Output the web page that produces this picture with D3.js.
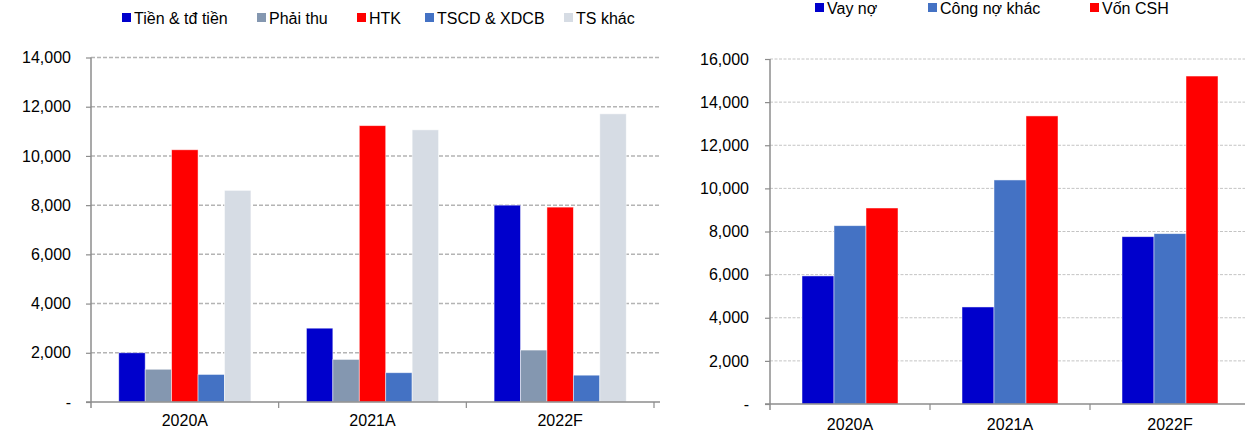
<!DOCTYPE html>
<html>
<head>
<meta charset="utf-8">
<script src="https://cdn.jsdelivr.net/npm/d3@7"></script>
<style>
  body { margin: 0; background: #fff; }
  svg { display: block; }
  svg text { font-family: "Liberation Sans", Arial, sans-serif; font-size: 16px; fill: #000; }
</style>
</head>
<body>
<script>
// data
const years = ['2020A', '2021A', '2022F'];

const assetSeries = ['Tiền & tđ tiền', 'Phải thu', 'HTK', 'TSCD & XDCB', 'TS khác'];
const assetColors = ['#0000CC', '#8497B0', '#FF0000', '#4472C4', '#D6DCE4'];
const tienTd = [2000, 3000, 8000];
const phaiThu = [1330, 1730, 2110];
const htk = [10250, 11230, 7920];
const tscd = [1120, 1190, 1090];
const tsKhac = [8600, 11060, 11710];
const assetTicks = [0, 2000, 4000, 6000, 8000, 10000, 12000, 14000];

const sourceSeries = ['Vay nợ', 'Công nợ khác', 'Vốn CSH'];
const sourceColors = ['#0000CC', '#4472C4', '#FF0000'];
const vayNo = [5940, 4500, 7760];
const congNoKhac = [8270, 10390, 7900];
const vonCSH = [9090, 13360, 15210];
const sourceTicks = [0, 2000, 4000, 6000, 8000, 10000, 12000, 14000, 16000];

const W = 1245, H = 434;
const svg = d3.select('body').append('svg').attr('width', W).attr('height', H);

const fmt = v => v === 0 ? '-' : d3.format(',')(v);

function drawChart(cfg) {
  const g = svg.append('g');
  const x = d3.scaleBand().domain(years).range([cfg.x0, cfg.x1]);
  const xs = d3.scaleBand().domain(cfg.series.map((s, i) => i))
    .range([0, x.bandwidth()]).paddingOuter(cfg.pad).paddingInner(0);
  const y = d3.scaleLinear().domain([0, cfg.max]).range([cfg.y0, cfg.y1]);

  // gridlines
  g.append('g').selectAll('line')
    .data(cfg.ticks.filter(t => t > 0))
    .join('line')
      .attr('x1', cfg.x0).attr('x2', cfg.gridEnd)
      .attr('y1', d => y(d)).attr('y2', d => y(d))
      .attr('stroke', cfg.gridColor)
      .attr('stroke-width', cfg.gridWidth)
      .attr('stroke-dasharray', cfg.dash);

  // bars
  cfg.values.forEach((vals, si) => {
    g.append('g').selectAll('rect')
      .data(vals)
      .join('rect')
        .attr('x', (d, i) => x(years[i]) + xs(si))
        .attr('y', d => y(d))
        .attr('width', xs.bandwidth())
        .attr('height', d => y(0) - y(d))
        .attr('fill', cfg.colors[si])
        .attr('stroke', 'rgba(255,255,255,0.6)')
        .attr('stroke-width', 0.8);
  });

  // y axis
  const yAxis = g.append('g')
    .attr('transform', `translate(${cfg.x0},0)`)
    .call(d3.axisLeft(y).tickValues(cfg.ticks).tickFormat(fmt).tickSize(5).tickPadding(cfg.labelPad));
  yAxis.attr('font-family', null).attr('font-size', null);
  yAxis.select('.domain').attr('stroke', '#8c8c8c').attr('stroke-width', 1.5)
    .attr('d', `M0,${cfg.y1}V${cfg.y0 + 6}`);
  yAxis.selectAll('.tick line').attr('stroke', '#8c8c8c').attr('stroke-width', 1.2);

  // x axis
  const xAxis = g.append('g').attr('transform', `translate(0,${cfg.y0})`);
  xAxis.append('line')
    .attr('x1', cfg.x0 - 5).attr('x2', cfg.gridEnd)
    .attr('stroke', '#8c8c8c').attr('stroke-width', 1.5);
  xAxis.selectAll('.sep')
    .data(years.slice(1).concat(cfg.lastTick ? ['end'] : []))
    .join('line')
      .attr('x1', d => d === 'end' ? cfg.x1 : x(d))
      .attr('x2', d => d === 'end' ? cfg.x1 : x(d))
      .attr('y1', 0).attr('y2', 6)
      .attr('stroke', '#8c8c8c').attr('stroke-width', 1.2);
  xAxis.selectAll('text')
    .data(years)
    .join('text')
      .attr('x', d => x(d) + x.bandwidth() / 2)
      .attr('y', cfg.catY)
      .attr('text-anchor', 'middle')
      .text(d => d);

  // legend
  const leg = g.append('g');
  cfg.series.forEach((s, i) => {
    leg.append('rect')
      .attr('x', cfg.legX[i]).attr('y', cfg.legY - 5)
      .attr('width', 9).attr('height', 9)
      .attr('fill', cfg.colors[i]);
    leg.append('text')
      .attr('x', cfg.legX[i] + 12).attr('y', cfg.legY)
      .attr('dy', '0.35em')
      .text(s);
  });
}

drawChart({
  series: assetSeries, colors: assetColors,
  values: [tienTd, phaiThu, htk, tscd, tsKhac],
  ticks: assetTicks, max: 14000,
  x0: 91, x1: 654, y0: 402, y1: 57.5, gridEnd: 660,
  pad: 1.05, gridColor: '#b4b4b4', gridWidth: 1.5, dash: '4,2',
  labelPad: 15, catY: 24, lastTick: true,
  legX: [122, 257, 357, 425, 564], legY: 18
});

drawChart({
  series: sourceSeries, colors: sourceColors,
  values: [vayNo, congNoKhac, vonCSH],
  ticks: sourceTicks, max: 16000,
  x0: 770, x1: 1250, y0: 404, y1: 59, gridEnd: 1245,
  pad: 1, gridColor: '#c4c4c4', gridWidth: 1, dash: '3,1.5',
  labelPad: 16, catY: 26, lastTick: false,
  legX: [815, 928, 1090], legY: 8
});
</script>
</body>
</html>
